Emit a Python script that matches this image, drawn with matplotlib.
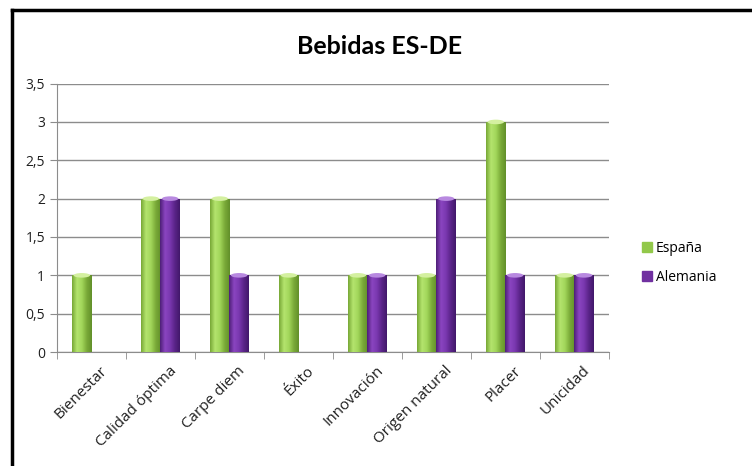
import numpy as np
import matplotlib.pyplot as plt
from matplotlib.colors import LinearSegmentedColormap
from matplotlib.lines import Line2D
from matplotlib.patches import Ellipse
from matplotlib.ticker import FuncFormatter
from matplotlib.transforms import ScaledTranslation

categorias = ['Bienestar', 'Calidad óptima', 'Carpe diem', 'Éxito', 'Innovación',
              'Origen natural', 'Placer', 'Unicidad']
espana = [1, 2, 2, 1, 1, 1, 3, 1]
alemania = [0, 2, 1, 0, 1, 2, 1, 1]
series = ['España', 'Alemania']

verde = '#92c84a'
morado = '#7030a0'
cmap_verde = LinearSegmentedColormap.from_list('verde', ['#78a836', '#b4e46e', '#a2d65a', '#7aaa38', '#62902a'])
cmap_morado = LinearSegmentedColormap.from_list('morado', ['#4e1f78', '#8a45c0', '#7a38b0', '#5a2488', '#42186a'])
tope_verde = '#d4f0a0'
tope_morado = '#b889e0'

fig = plt.figure(figsize=(7.52, 4.66), dpi=100)
ax = fig.add_axes([0.0758, 0.2446, 0.734, 0.576])

x = np.arange(len(categorias))
ancho = 0.28
grad = np.linspace(0, 1, 64).reshape(1, -1)


def barra_cilindro(xc, h, cmap, tope, color):
    if h <= 0:
        return
    rect = ax.bar(xc, h, ancho, color=color, edgecolor='none', zorder=3)[0]
    img = ax.imshow(grad, cmap=cmap, aspect='auto', zorder=3.1,
                    extent=[xc - ancho / 2, xc + ancho / 2, 0, h])
    img.set_clip_path(rect)
    ax.add_patch(Ellipse((xc, h), ancho * 0.85, 0.06, facecolor=tope,
                         edgecolor='none', zorder=3.2))


for i in x:
    barra_cilindro(i - ancho / 2, espana[i], cmap_verde, tope_verde, verde)
    barra_cilindro(i + ancho / 2, alemania[i], cmap_morado, tope_morado, morado)

ax.set_xlim(-0.5, len(categorias) - 0.5)
ax.set_ylim(0, 3.5)
ax.set_yticks(np.arange(0, 3.51, 0.5))
ax.yaxis.set_major_formatter(FuncFormatter(lambda v, p: f'{v:g}'.replace('.', ',')))
ax.grid(axis='y', color='#8c8c8c', linewidth=1, zorder=0)
ax.set_axisbelow(True)

ax.set_xticks(x)
ax.set_xticklabels(categorias, rotation=45, ha='right', rotation_mode='anchor',
                   fontsize=11, color='#202020', family='Open Sans')
ax.set_xticks(np.arange(-0.5, len(categorias)), minor=True)
ax.tick_params(axis='x', which='major', length=0, pad=8)
ax.tick_params(axis='x', which='minor', length=5, color='#8c8c8c')
ax.tick_params(axis='y', length=5, color='#8c8c8c', labelsize=10, labelcolor='#202020')
for lab in ax.get_yticklabels():
    lab.set_family('Open Sans')
# desplazar un poco las etiquetas giradas hacia la derecha
desplazamiento = ScaledTranslation(6 / 72, 0, fig.dpi_scale_trans)
for lab in ax.get_xticklabels():
    lab.set_transform(lab.get_transform() + desplazamiento)

for s in ['top', 'right']:
    ax.spines[s].set_visible(False)
for s in ['left', 'bottom']:
    ax.spines[s].set_color('#8c8c8c')

fig.text(0.505, 0.9, 'Bebidas ES-DE', ha='center', va='center', fontsize=18,
         fontweight='bold', family='Lato')

handles = [Line2D([], [], marker='s', linestyle='none', markersize=7,
                  markerfacecolor=c, markeredgecolor=c) for c in (verde, morado)]
fig.legend(handles, series, loc='center left', bbox_to_anchor=(0.835, 0.435),
           frameon=False, handletextpad=0.1, labelspacing=1.0, handlelength=1,
           prop={'family': 'Open Sans', 'size': 10})

# marco exterior
fig.add_artist(Line2D([0.016, 0.016], [0, 0.978], color='black', linewidth=2.5,
                      transform=fig.transFigure))
fig.add_artist(Line2D([0.016, 1], [0.978, 0.978], color='black', linewidth=2.5,
                      transform=fig.transFigure))

fig.savefig('out.png', dpi=100)
